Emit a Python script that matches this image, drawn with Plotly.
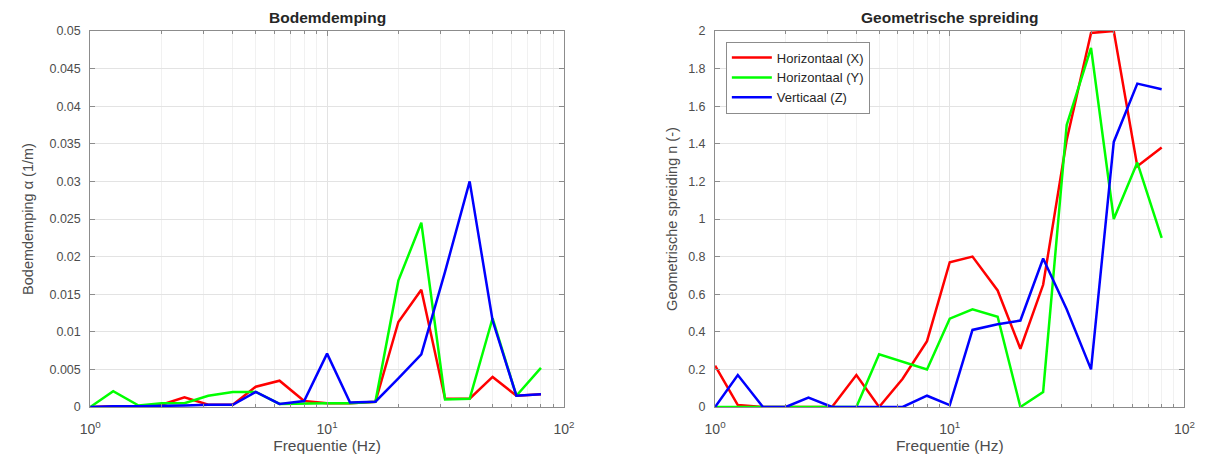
import plotly.graph_objects as go

# Third-octave band centre frequencies (Hz)
freq = [1, 1.25, 1.6, 2, 2.5, 3.15, 4, 5, 6.3, 8, 10, 12.5, 16, 20, 25, 31.5, 40, 50, 63, 80]

# Bodemdemping alpha (1/m)
alpha_x = [0, 0.0001, 0.0001, 0.0003, 0.0013, 0.0003, 0.0003, 0.0027, 0.0035, 0.0008,
           0.0005, 0.0005, 0.0007, 0.0113, 0.0156, 0.0011, 0.0011, 0.0040, 0.0015, 0.0017]
alpha_y = [0, 0.0021, 0.0002, 0.0005, 0.0005, 0.0015, 0.0020, 0.0020, 0.0004, 0.0005,
           0.0005, 0.0005, 0.0007, 0.0168, 0.0245, 0.0010, 0.0011, 0.0118, 0.0015, 0.0052]
alpha_z = [0, 0.0001, 0.0001, 0.0002, 0.0002, 0.0003, 0.0003, 0.0020, 0.0004, 0.0008,
           0.0071, 0.0006, 0.0007, 0.0038, 0.0070, 0.0180, 0.0300, 0.0115, 0.0015, 0.0017]

# Geometrische spreiding n (-)
n_x = [0.22, 0.01, 0, 0, 0, 0, 0.17, 0, 0.15, 0.35,
       0.77, 0.80, 0.62, 0.31, 0.65, 1.42, 1.99, 2.00, 1.28, 1.38]
n_y = [0, 0, 0, 0, 0, 0, 0, 0.28, 0.24, 0.20,
       0.47, 0.52, 0.48, 0, 0.08, 1.50, 1.91, 1.00, 1.30, 0.90]
n_z = [0, 0.17, 0, 0, 0.05, 0, 0, 0, 0, 0.06,
       0.01, 0.41, 0.44, 0.46, 0.79, 0.52, 0.20, 1.41, 1.72, 1.69]

series_names = ["Horizontaal (X)", "Horizontaal (Y)", "Verticaal (Z)"]
series_colors = ["#ff0000", "#00ff00", "#0000ff"]

x_major = [1, 10, 100]
x_major_text = ["10<sup>0</sup>", "10<sup>1</sup>", "10<sup>2</sup>"]
x_minor = [m * d for d in (1, 10) for m in range(2, 10)]

alpha_ticks = [0, 0.005, 0.01, 0.015, 0.02, 0.025, 0.03, 0.035, 0.04, 0.045, 0.05]
alpha_text = ["0", "0.005", "0.01", "0.015", "0.02", "0.025", "0.03", "0.035", "0.04", "0.045", "0.05"]
n_ticks = [0, 0.2, 0.4, 0.6, 0.8, 1, 1.2, 1.4, 1.6, 1.8, 2]
n_text = ["0", "0.2", "0.4", "0.6", "0.8", "1", "1.2", "1.4", "1.6", "1.8", "2"]

FONT = "Liberation Sans, Arial, Helvetica, sans-serif"
TICK_COLOR = "#4d4d4d"
AXIS_COLOR = "#8c8c8c"
GRID = "#e3e3e3"
MINOR_GRID = "#f1f1f1"

LEFT_DOMAIN = [0.0662, 0.4619]
RIGHT_DOMAIN = [0.5882, 0.9803]

fig = go.Figure()

for vals, name, col in zip([alpha_x, alpha_y, alpha_z], series_names, series_colors):
    fig.add_trace(go.Scatter(x=freq, y=vals, mode="lines", name=name,
                             line=dict(color=col, width=2.5),
                             xaxis="x", yaxis="y", showlegend=False))

for vals, name, col in zip([n_x, n_y, n_z], series_names, series_colors):
    fig.add_trace(go.Scatter(x=freq, y=vals, mode="lines", name=name,
                             line=dict(color=col, width=2.5),
                             xaxis="x2", yaxis="y2", showlegend=True))


def xaxis_style(domain, anchor):
    return dict(
        domain=domain, anchor=anchor, type="log", range=[0, 2],
        tickmode="array", tickvals=x_major, ticktext=x_major_text,
        ticks="inside", ticklen=5, tickcolor=AXIS_COLOR,
        showline=True, linecolor=AXIS_COLOR, linewidth=1, mirror="ticks",
        showgrid=True, gridcolor=GRID, gridwidth=1,
        minor=dict(tickmode="array", tickvals=x_minor, ticks="inside", ticklen=3,
                   tickcolor=AXIS_COLOR, showgrid=True, gridcolor=MINOR_GRID),
        tickfont=dict(family=FONT, size=14, color=TICK_COLOR),
        ticklabelstandoff=9,
        title=dict(text="Frequentie (Hz)", font=dict(family=FONT, size=15.5, color=TICK_COLOR),
                   standoff=4),
        zeroline=False,
    )


def yaxis_style(anchor, rng, tv, tt, title, standoff):
    return dict(
        anchor=anchor, range=rng, domain=[0, 1],
        tickmode="array", tickvals=tv, ticktext=tt,
        ticks="inside", ticklen=5, tickcolor=AXIS_COLOR,
        showline=True, linecolor=AXIS_COLOR, linewidth=1, mirror="ticks",
        showgrid=True, gridcolor=GRID, gridwidth=1,
        tickfont=dict(family=FONT, size=12.5, color=TICK_COLOR),
        ticklabelstandoff=6,
        title=dict(text=title, font=dict(family=FONT, size=14.5, color=TICK_COLOR),
                   standoff=standoff),
        zeroline=False,
    )


fig.update_layout(
    width=1219, height=465,
    margin=dict(l=0, r=0, t=31, b=58),
    paper_bgcolor="white", plot_bgcolor="white",
    font=dict(family=FONT, color=TICK_COLOR),
    xaxis=xaxis_style(LEFT_DOMAIN, "y"),
    yaxis=yaxis_style("x", [0, 0.05], alpha_ticks, alpha_text, "Bodemdemping α (1/m)", 12),
    xaxis2=xaxis_style(RIGHT_DOMAIN, "y2"),
    yaxis2=yaxis_style("x2", [0, 2], n_ticks, n_text, "Geometrische spreiding n (-)", 7),
    legend=dict(x=0.5972, y=0.972, xanchor="left", yanchor="top",
                bgcolor="white", bordercolor="#8c8c8c", borderwidth=1,
                font=dict(family=FONT, size=13, color="#262626"),
                tracegroupgap=0, itemwidth=40),
    annotations=[
        dict(text="<b>Bodemdemping</b>", x=sum(LEFT_DOMAIN) / 2, y=1, xref="paper", yref="paper",
             xanchor="center", yanchor="bottom", yshift=3, showarrow=False,
             font=dict(family=FONT, size=15.5, color="#262626")),
        dict(text="<b>Geometrische spreiding</b>", x=sum(RIGHT_DOMAIN) / 2, y=1, xref="paper",
             yref="paper", xanchor="center", yanchor="bottom", yshift=3, showarrow=False,
             font=dict(family=FONT, size=15.5, color="#262626")),
    ],
)

fig.write_html("out.html")
